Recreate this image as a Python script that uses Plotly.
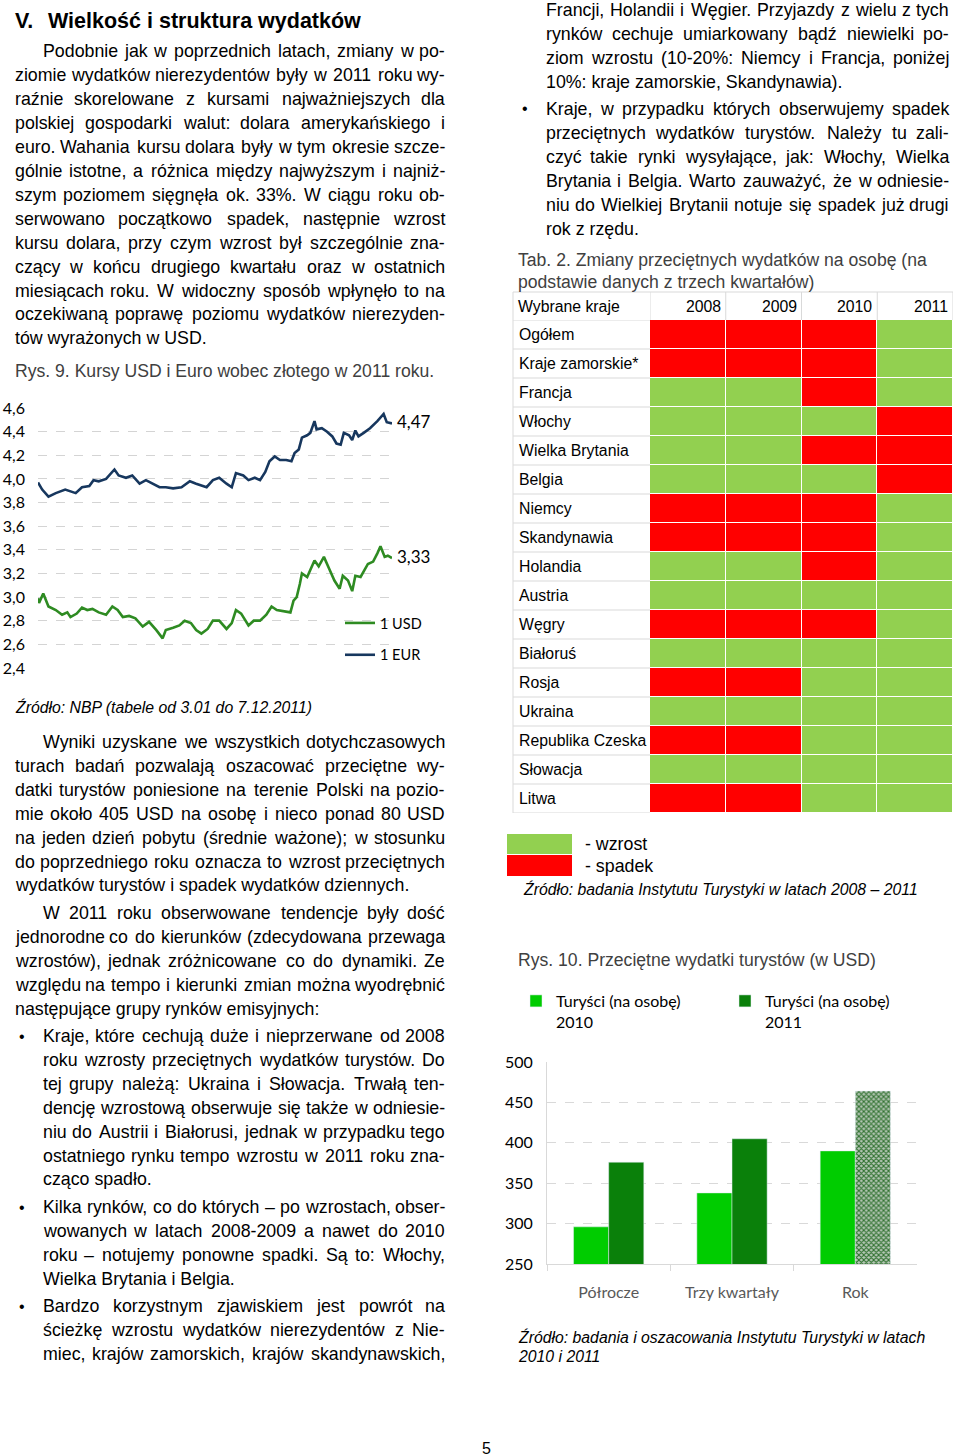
import pandas as pd
import plotly.graph_objects as go

PAGE_W, PAGE_H = 960, 1456
BODY = "Liberation Sans"
CHART = "Lato"

# Rys. 9: NBP rates, day offset from 3.01.2011
usd_day = [0, 1, 5, 10, 17, 23, 28, 31, 37, 42, 47, 52, 58, 65, 71, 76, 81, 87, 93, 100,
           106, 113, 119, 122, 129, 135, 140, 146, 151, 156, 162, 167, 173, 180, 185, 189,
           194, 201, 206, 212, 218, 223, 228, 234, 241, 244, 247, 250, 252, 257, 264, 268,
           273, 278, 283, 288, 291, 296, 300, 303, 308, 315, 320, 324, 327, 331, 334, 338]
usd_rate = [2.99, 2.95, 3.03, 2.92, 2.89, 2.85, 2.87, 2.83, 2.86, 2.91, 2.89, 2.90, 2.87, 2.85,
            2.92, 2.89, 2.83, 2.84, 2.82, 2.75, 2.79, 2.72, 2.65, 2.72, 2.74, 2.76, 2.80, 2.78,
            2.72, 2.69, 2.73, 2.80, 2.80, 2.73, 2.78, 2.89, 2.86, 2.76, 2.80, 2.80, 2.85, 2.92,
            2.89, 2.88, 2.87, 2.97, 3.00, 3.11, 3.20, 3.17, 3.31, 3.26, 3.34, 3.24, 3.14, 3.07,
            3.18, 3.14, 3.05, 3.18, 3.17, 3.28, 3.30, 3.37, 3.43, 3.34, 3.35, 3.33]
eur_day = [0, 4, 10, 17, 26, 36, 42, 49, 53, 58, 65, 73, 77, 84, 90, 97, 103, 109, 116, 122,
           129, 137, 145, 151, 161, 167, 173, 180, 185, 189, 196, 201, 207, 212, 217, 221,
           226, 231, 237, 242, 245, 249, 252, 257, 260, 264, 266, 271, 276, 281, 285, 289,
           292, 297, 300, 303, 306, 311, 317, 324, 330, 333, 338]
eur_rate = [3.97, 3.91, 3.85, 3.88, 3.91, 3.88, 3.93, 3.94, 3.99, 3.98, 4.00, 4.08, 4.03, 4.01,
            4.03, 3.96, 3.99, 3.96, 3.93, 3.93, 3.92, 3.93, 3.98, 3.96, 3.93, 3.99, 4.01, 3.96,
            3.93, 4.05, 4.03, 3.99, 4.01, 3.99, 4.06, 4.15, 4.19, 4.16, 4.16, 4.15, 4.22, 4.25,
            4.35, 4.37, 4.39, 4.49, 4.42, 4.43, 4.40, 4.36, 4.30, 4.29, 4.39, 4.37, 4.33, 4.41,
            4.36, 4.39, 4.43, 4.49, 4.55, 4.48, 4.47]
rate_ticks = [2.4, 2.6, 2.8, 3.0, 3.2, 3.4, 3.6, 3.8, 4.0, 4.2, 4.4, 4.6]

# Tab. 2: 1 = wzrost, 0 = spadek
countries = ["Ogółem", "Kraje zamorskie*", "Francja", "Włochy", "Wielka Brytania", "Belgia",
             "Niemcy", "Skandynawia", "Holandia", "Austria", "Węgry", "Białoruś", "Rosja",
             "Ukraina", "Republika Czeska", "Słowacja", "Litwa"]
years = ["2008", "2009", "2010", "2011"]
change = [[0, 0, 0, 1], [0, 0, 0, 1], [1, 1, 0, 1], [1, 1, 1, 0], [1, 1, 0, 0], [1, 1, 1, 0],
          [0, 0, 0, 1], [0, 0, 0, 1], [1, 1, 0, 1], [1, 1, 1, 1], [0, 0, 0, 1], [1, 1, 1, 1],
          [0, 0, 1, 1], [1, 1, 1, 1], [0, 0, 1, 1], [1, 1, 1, 1], [0, 0, 1, 1]]

# Rys. 10: average spending (USD)
periods = ["Półrocze", "Trzy kwartały", "Rok"]
spend_2010 = [296, 338, 390]
spend_2011 = [376, 405, 464]

GREEN, RED = "#92d050", "#ff0000"

# Arial / Liberation Sans advance widths (1/1000 em), used to justify lines
ADV = {}
for chars, w in [("ijlł", 222), (" ,.:;ftI", 278), ("r()-", 333), ("ckszyvxćśźżJ", 500),
                 ("abdeghnopquąęńóL0123456789–", 556), ("FTZ", 611), ("ABEKPSVXYŚ", 667),
                 ("wCDHNRU", 722), ("GOQ", 778), ("mM", 833), ("%", 889), ("W", 944)]:
    for c in chars:
        ADV[c] = w

ann = []
shapes = []


def px(x):
    return x / PAGE_W


def py(y):
    return 1 - y / PAGE_H


def text(x, y, s, size=17.8, color="#000000", anchor="left", family=BODY):
    ann.append(dict(x=px(x), y=py(y), xref="paper", yref="paper", text=s, showarrow=False,
                    xanchor=anchor, yanchor="middle", borderpad=0,
                    font=dict(family=family, size=size, color=color)))


def paragraph(lines, x0, x1, y0, indent=0, last_full=False, size=17.8, lh=23.9):
    for i, line in enumerate(lines):
        y = y0 + i * lh
        xs = x0 + (indent if i == 0 else 0)
        words = line.split()
        if (i == len(lines) - 1 and not last_full) or len(words) == 1:
            text(xs, y, line, size)
            continue
        widths = [sum(ADV.get(c, 556) for c in w) * size / 1000 for w in words]
        gap = (x1 - xs - sum(widths)) / (len(words) - 1)
        x = xs
        for j, (w, wd) in enumerate(zip(words, widths)):
            if j == 0:
                text(xs, y, w, size)
            elif j == len(words) - 1:
                text(x1, y, w, size, anchor="right")
            else:
                text(x + wd / 2, y, w, size, anchor="center")
            x += wd + gap


def bullet(x, y):
    text(x, y, "•", 16)


# ---- left column text ----
text(14, 21, "<b>V.</b>", 21.5)
text(47, 21, "<b>Wielkość i struktura wydatków</b>", 21.5)

paragraph([
    "Podobnie jak w poprzednich latach, zmiany w po-",
    "ziomie wydatków nierezydentów były w 2011 roku wy-",
    "raźnie skorelowane z kursami najważniejszych dla",
    "polskiej gospodarki walut: dolara amerykańskiego i",
    "euro. Wahania kursu dolara były w tym okresie szcze-",
    "gólnie istotne, a różnica między najwyższym i najniż-",
    "szym poziomem sięgnęła ok. 33%. W ciągu roku ob-",
    "serwowano początkowo spadek, następnie wzrost",
    "kursu dolara, przy czym wzrost był szczególnie zna-",
    "czący w końcu drugiego kwartału oraz w ostatnich",
    "miesiącach roku. W widoczny sposób wpłynęło to na",
    "oczekiwaną poprawę poziomu wydatków nierezyden-",
    "tów wyrażonych w USD.",
], 14, 446, 51.5, indent=28)

text(14, 371, "Rys. 9. Kursy USD i Euro wobec złotego w 2011 roku.", 17.6, "#404040")
text(14, 707, "<i>Źródło: NBP (tabele od 3.01 do 7.12.2011)</i>", 15.8)

paragraph([
    "Wyniki uzyskane we wszystkich dotychczasowych",
    "turach badań pozwalają oszacować przeciętne wy-",
    "datki turystów poniesione na terenie Polski na pozio-",
    "mie około 405 USD na osobę i nieco ponad 80 USD",
    "na jeden dzień pobytu (średnie ważone); w stosunku",
    "do poprzedniego roku oznacza to wzrost przeciętnych",
    "wydatków turystów i spadek wydatków dziennych.",
], 14, 446, 742, indent=28)

paragraph([
    "W 2011 roku obserwowane tendencje były dość",
    "jednorodne co do kierunków (zdecydowana przewaga",
    "wzrostów), jednak zróżnicowane co do dynamiki. Ze",
    "względu na tempo i kierunki zmian można wyodrębnić",
    "następujące grupy rynków emisyjnych:",
], 14, 446, 913, indent=28)

bullet(18, 1036)
paragraph([
    "Kraje, które cechują duże i nieprzerwane od 2008",
    "roku wzrosty przeciętnych wydatków turystów. Do",
    "tej grupy należą: Ukraina i Słowacja. Trwałą ten-",
    "dencję wzrostową obserwuje się także w odniesie-",
    "niu do Austrii i Białorusi, jednak w przypadku tego",
    "ostatniego rynku tempo wzrostu w 2011 roku zna-",
    "cząco spadło.",
], 42, 446, 1036)

bullet(18, 1207)
paragraph([
    "Kilka rynków, co do których – po wzrostach, obser-",
    "wowanych w latach 2008-2009 a nawet do 2010",
    "roku – notujemy ponowne spadki. Są to: Włochy,",
    "Wielka Brytania i Belgia.",
], 42, 446, 1207)

bullet(18, 1306)
paragraph([
    "Bardzo korzystnym zjawiskiem jest powrót na",
    "ścieżkę wzrostu wydatków nierezydentów z Nie-",
    "miec, krajów zamorskich, krajów skandynawskich,",
], 42, 446, 1306, last_full=True)

# ---- right column text ----
paragraph([
    "Francji, Holandii i Węgier. Przyjazdy z wielu z tych",
    "rynków cechuje umiarkowany bądź niewielki po-",
    "ziom wzrostu (10-20%: Niemcy i Francja, poniżej",
    "10%: kraje zamorskie, Skandynawia).",
], 545, 950, 10)

bullet(521, 109)
paragraph([
    "Kraje, w przypadku których obserwujemy spadek",
    "przeciętnych wydatków turystów. Należy tu zali-",
    "czyć takie rynki wysyłające, jak: Włochy, Wielka",
    "Brytania i Belgia. Warto zauważyć, że w odniesie-",
    "niu do Wielkiej Brytanii notuje się spadek już drugi",
    "rok z rzędu.",
], 545, 950, 109)

text(517, 260, "Tab. 2. Zmiany przeciętnych wydatków na osobę (na", 17.6, "#404040")
text(517, 282, "podstawie danych z trzech kwartałów)", 17.6, "#404040")

# ---- Tab. 2 (heatmap on index axes x2/y2) ----
col_pos = list(range(len(years)))
row_pos = list(range(len(countries)))

text(517, 306, "Wybrane kraje", 15.8)
for r, c in zip(row_pos, countries):
    ann.append(dict(x=px(517), y=r, xref="paper", yref="y2", text=c, showarrow=False,
                    xanchor="left", yanchor="middle", font=dict(family=BODY, size=15.8, color="#000")))
for k, yr in zip(col_pos, years):
    ann.append(dict(x=k + 0.5, y=py(306), xref="x2", yref="paper", text=yr, showarrow=False,
                    xanchor="right", yanchor="middle", xshift=-3,
                    font=dict(family=BODY, size=15.8, color="#000")))

grid = dict(color="#d9d9d9", width=1)
for i in range(len(countries) + 1):
    shapes.append(dict(type="line", xref="paper", yref="y2", x0=px(513), x1=px(650),
                       y0=i - 0.5, y1=i - 0.5, line=grid))
shapes.append(dict(type="line", xref="paper", yref="paper", x0=px(513), x1=px(953),
                   y0=py(292), y1=py(292), line=grid))
shapes.append(dict(type="line", xref="paper", yref="paper", x0=px(513), x1=px(513),
                   y0=py(292), y1=py(813), line=grid))
for k in range(len(years) + 1):
    shapes.append(dict(type="line", xref="x2", yref="paper", x0=k - 0.5, x1=k - 0.5,
                       y0=py(292), y1=py(320), line=grid))

# table legend
shapes.append(dict(type="rect", xref="paper", yref="paper", x0=px(507), x1=px(572),
                   y0=py(834), y1=py(854), fillcolor=GREEN, line_width=0))
shapes.append(dict(type="rect", xref="paper", yref="paper", x0=px(507), x1=px(572),
                   y0=py(855), y1=py(876), fillcolor=RED, line_width=0))
text(584, 844, "- wzrost", 17.8)
text(584, 866, "- spadek", 17.8)
text(522, 889, "<i>Źródło: badania Instytutu Turystyki w latach 2008 – 2011</i>", 15.8)

text(517, 960, "Rys. 10. Przeciętne wydatki turystów (w USD)", 17.6, "#404040")
text(517, 1337, "<i>Źródło: badania i oszacowania Instytutu Turystyki w latach</i>", 15.8)
text(517, 1356, "<i>2010 i 2011</i>", 15.8)
text(481, 1448, "5", 16)

# ---- figure ----
start = pd.Timestamp("2011-01-03")
usd_x = start + pd.to_timedelta(usd_day, unit="D")
eur_x = start + pd.to_timedelta(eur_day, unit="D")

fig = go.Figure()
fig.add_trace(go.Scatter(x=usd_x, y=usd_rate, mode="lines", name="1 USD", legendgroup="usd",
                         line=dict(color="#2e8b22", width=2.6)))
fig.add_trace(go.Scatter(x=eur_x, y=eur_rate, mode="lines", name="1 EUR", legendgroup="eur",
                         line=dict(color="#17375e", width=2.6)))
for xs, ys in [(usd_x, usd_rate), (eur_x, eur_rate)]:
    ann.append(dict(x=xs[-1], y=ys[-1], xref="x", yref="y", text=f"{ys[-1]:.2f}".replace(".", ","),
                    showarrow=False, xanchor="left", yanchor="middle", xshift=3, yshift=2,
                    font=dict(family=CHART, size=17, color="#000")))

fig.add_trace(go.Heatmap(z=change, x=col_pos, y=row_pos, xaxis="x2", yaxis="y2",
                         colorscale=[[0, RED], [0.5, RED], [0.5, GREEN], [1, GREEN]],
                         zmin=0, zmax=1, showscale=False, xgap=1, ygap=1, hoverinfo="skip"))

fig.add_trace(go.Bar(x=periods, y=spend_2010, name="Turyści (na osobę)<br>2010",
                     xaxis="x3", yaxis="y3", legend="legend2", marker_color="#00cc00"))
fig.add_trace(go.Bar(x=periods, y=spend_2011, name="Turyści (na osobę)<br>2011",
                     xaxis="x3", yaxis="y3", legend="legend2",
                     marker=dict(color="#0a800a",
                                 pattern=dict(shape=["", "", "x"], size=3.5, solidity=0.5,
                                              fgcolor="#2a6e2a", bgcolor="#b9c9b9",
                                              fillmode="replace"))))

fig.update_layout(
    width=PAGE_W, height=PAGE_H, margin=dict(l=0, r=0, t=0, b=0, autoexpand=False),
    paper_bgcolor="white", plot_bgcolor="white", separators=", ",
    annotations=ann, shapes=shapes, bargap=0.43, bargroupgap=0,
    xaxis=dict(domain=[px(38), px(392)], range=[usd_x[0], usd_x[-1]], visible=False),
    yaxis=dict(domain=[py(668.5), py(407.5)], range=[2.395, 4.605], tickvals=rate_ticks,
               tickformat=".1f", showgrid=True, gridcolor="#d4d4d4", griddash="dash",
               zeroline=False, ticklabelstandoff=12,
               tickfont=dict(family=CHART, size=16, color="#000")),
    xaxis2=dict(domain=[px(650), px(953)], anchor="y2", range=[-0.5, len(years) - 0.5],
                visible=False),
    yaxis2=dict(domain=[py(813), py(320)], anchor="x2", range=[len(countries) - 0.5, -0.5],
                visible=False),
    xaxis3=dict(domain=[px(547), px(917)], anchor="y3", showline=True, linecolor="#d9d9d9",
                ticks="outside", tickson="boundaries", ticklen=6, tickcolor="#d9d9d9",
                ticklabelstandoff=14,
                tickfont=dict(family=CHART, size=16, color="#595959")),
    yaxis3=dict(domain=[py(1264), py(1062)], anchor="x3", range=[250, 500], dtick=50,
                showline=True, linecolor="#d9d9d9", gridcolor="#d9d9d9", griddash="dash",
                zeroline=False, ticklabelstandoff=10,
                tickfont=dict(family=CHART, size=16, color="#000")),
    legend=dict(x=px(340), y=py(607), xanchor="left", yanchor="top", tracegroupgap=10,
                bgcolor="rgba(0,0,0,0)", font=dict(family=CHART, size=14.5, color="#000")),
    legend2=dict(orientation="h", x=px(516), y=py(984), xanchor="left", yanchor="top",
                 valign="top", entrywidth=164, bgcolor="rgba(0,0,0,0)",
                 font=dict(family=CHART, size=16, color="#000")),
)

pin = ("document.documentElement.style.margin = '0'; document.body.style.margin = '0';"
       "var d = document.getElementById('{plot_id}');"
       "d.style.position = 'absolute'; d.style.left = '0px'; d.style.top = '0px';")
fig.write_html("out.html", config={"displayModeBar": False}, post_script=pin)
